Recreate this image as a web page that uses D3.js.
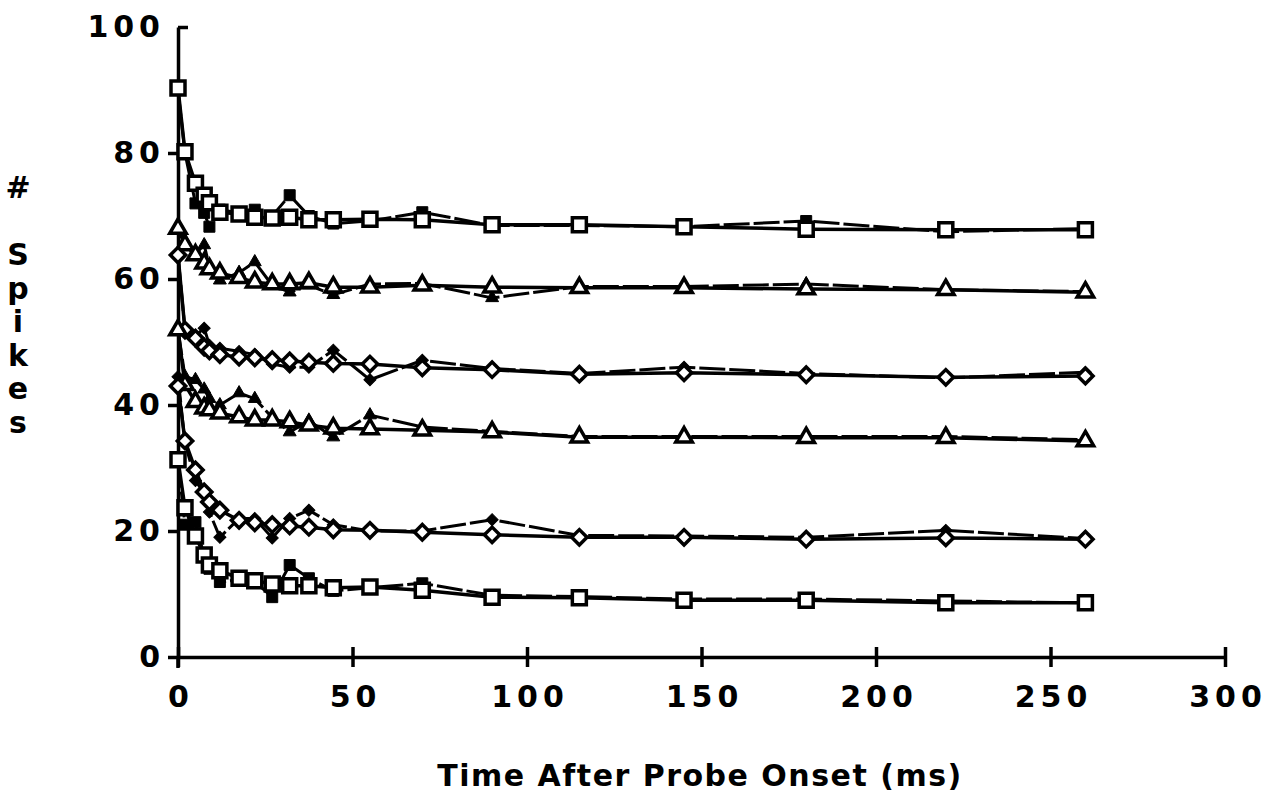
<!DOCTYPE html>
<html>
<head>
<meta charset="utf-8">
<script src="https://cdn.jsdelivr.net/npm/d3@7"></script>
<style>
  body { margin: 0; background: #fff; }
  text { font-family: "DejaVu Sans", "Liberation Sans", Arial, sans-serif; font-weight: bold; fill: #000; }
</style>
</head>
<body>
<div id="chart"></div>
<script>
// time after probe onset (ms)
const times = [0, 2, 5, 7.5, 9, 12, 17.5, 22, 27, 32, 37.5, 44.5, 55, 70, 90, 115, 145, 180, 220, 260];

// open-marker series (solid lines)
const squaresTop = [90.3, 80.2, 75.2, 73.3, 72.1, 70.6, 70.3, 69.8, 69.7, 69.8, 69.4, 69.4, 69.5, 69.4, 68.6, 68.6, 68.3, 67.9, 67.8, 67.8];
const trianglesTop = [68, 65.4, 63.8, 62.5, 61.6, 60.9, 60.2, 59.5, 59.2, 59.2, 59.4, 58.7, 58.7, 59.0, 58.7, 58.6, 58.6, 58.4, 58.3, 57.9];
const diamondsTop = [63.8, 51.9, 50.6, 49.2, 48.6, 48.0, 47.6, 47.5, 47.2, 47.0, 46.8, 46.6, 46.5, 45.9, 45.6, 44.9, 45.1, 44.8, 44.4, 44.6];
const trianglesLow = [51.9, 43.2, 40.5, 39.5, 39.2, 38.7, 38.1, 37.6, 37.6, 37.3, 36.8, 36.3, 36.2, 36.0, 35.7, 34.9, 34.9, 34.8, 34.8, 34.3];
const diamondsLow = [43.0, 34.3, 29.7, 26.2, 24.6, 23.3, 21.7, 21.3, 21.0, 20.8, 20.6, 20.2, 20.1, 19.8, 19.4, 19.0, 19.0, 18.7, 18.9, 18.7];
const squaresLow = [31.3, 23.7, 19.2, 16.2, 14.6, 13.7, 12.5, 12.1, 11.6, 11.3, 11.3, 11.0, 11.1, 10.6, 9.5, 9.4, 9.0, 9.0, 8.6, 8.6];

// filled-marker series (broken lines)
const squaresTopF = [90, 80, 72, 70.5, 68.3, 71, 70.5, 71, 70, 73.3, 70, 68.8, 69.2, 70.6, 68.5, 68.5, 68.3, 69.2, 67.5, 68];
const trianglesTopF = [68, 66, 64, 65.4, 62, 59.8, 61, 62.7, 59, 57.9, 59, 57.5, 59.2, 59.3, 57.0, 58.8, 58.8, 59.2, 58.3, 58];
const diamondsTopF = [63.8, 52, 51, 52.2, 49.5, 49, 48.5, 48, 46.5, 46, 46, 48.7, 44, 47.1, 45.8, 45, 46, 45, 44.3, 45.2];
const trianglesLowF = [52, 44.5, 44, 42.5, 41, 40, 41.9, 41, 38, 35.7, 37.5, 34.9, 38.4, 36.5, 35.8, 35, 35, 35, 35, 34.5];
const diamondsLowF = [44.5, 34, 28, 26, 23, 19, 22, 22, 18.9, 22, 23.3, 21, 20, 20, 21.8, 19.3, 19.2, 19, 20.1, 18.8];
const squaresLowF = [31, 21, 21.4, 16, 14, 11.9, 12.3, 12, 9.5, 14.6, 12.5, 10.5, 11, 11.7, 9.8, 9.6, 9.2, 9.2, 8.9, 8.6];

const xTicks = [0, 50, 100, 150, 200, 250, 300];
const yTicks = [0, 20, 40, 60, 80, 100];
const yLabelChars = ["#", "", "S", "p", "i", "k", "e", "s"];

const series = [
  { values: squaresTopF, shape: "square", filled: true },
  { values: trianglesTopF, shape: "triangle", filled: true },
  { values: diamondsTopF, shape: "diamond", filled: true },
  { values: trianglesLowF, shape: "triangle", filled: true },
  { values: diamondsLowF, shape: "diamond", filled: true },
  { values: squaresLowF, shape: "square", filled: true },
  { values: squaresTop, shape: "square", filled: false },
  { values: trianglesTop, shape: "triangle", filled: false },
  { values: diamondsTop, shape: "diamond", filled: false },
  { values: trianglesLow, shape: "triangle", filled: false },
  { values: diamondsLow, shape: "diamond", filled: false },
  { values: squaresLow, shape: "square", filled: false }
];

const width = 1275, height = 796;
const x0 = 178, y0 = 657;

const svg = d3.select("#chart").append("svg")
  .attr("width", width).attr("height", height);

const x = d3.scaleLinear().domain([0, 300]).range([x0, x0 + 1047]);
const y = d3.scaleLinear().domain([0, 100]).range([y0, 27]);

// axes
const xAxis = svg.append("g").attr("transform", `translate(0,${y0})`)
  .call(d3.axisBottom(x).tickValues(xTicks).tickSize(10).tickSizeOuter(0).tickPadding(19));
xAxis.selectAll(".tick line").attr("y1", -10);
const yAxis = svg.append("g").attr("transform", `translate(${x0},0)`)
  .call(d3.axisLeft(y).tickValues(yTicks).tickSize(10).tickSizeOuter(0).tickPadding(0));
yAxis.selectAll(".tick").filter(d => d === 100).select("line").attr("x2", 10);
svg.selectAll(".domain").attr("stroke", "#000").attr("stroke-width", 3.5);
svg.selectAll(".tick line").attr("stroke", "#000").attr("stroke-width", 3.5);
svg.selectAll(".tick text").attr("font-size", 30).attr("letter-spacing", 5)
  .style("font-family", "'DejaVu Sans', 'Liberation Sans', Arial, sans-serif").style("font-weight", "bold");
xAxis.selectAll(".tick text").attr("dx", 2.5);
yAxis.selectAll(".tick text").attr("dx", -3);
// extend the y axis a little below the x axis
svg.append("line").attr("x1", x0).attr("x2", x0).attr("y1", y0).attr("y2", y0 + 11)
  .attr("stroke", "#000").attr("stroke-width", 3.5);

// axis titles
svg.append("text").attr("x", 700).attr("y", 786).attr("text-anchor", "middle")
  .attr("font-size", 30).attr("letter-spacing", 1.5).text("Time After Probe Onset (ms)");
svg.append("g").selectAll("text").data(yLabelChars).join("text")
  .attr("x", 18).attr("y", (d, i) => 198 + i * 33.5)
  .attr("text-anchor", "middle").attr("font-size", 30).text(d => d);

// marker shapes
const symGen = {
  square: s => d3.symbol(d3.symbolSquare, s * s)(),
  triangle: s => d3.symbol(d3.symbolTriangle, s * s * 0.6)(),
  diamond: s => d3.symbol(d3.symbolSquare, s * s * 0.6)()
};

const line = d3.line().x(d => x(d[0])).y(d => y(d[1]));
const plot = svg.append("g");

series.forEach(s => {
  const pts = times.map((t, i) => [t, s.values[i]]);
  plot.append("path").datum(pts)
    .attr("d", line)
    .attr("fill", "none")
    .attr("stroke", "#000")
    .attr("stroke-width", s.filled ? 3 : 3.5)
    .attr("stroke-dasharray", s.filled ? "26,4" : null);
});

series.forEach(s => {
  const pts = times.map((t, i) => [t, s.values[i]]);
  const size = s.filled ? 11 : 14;
  plot.append("g").selectAll("path").data(pts).join("path")
    .attr("transform", d => `translate(${x(d[0])},${y(d[1])})` + (s.shape === "diamond" ? " rotate(45)" : ""))
    .attr("d", symGen[s.shape](size))
    .attr("fill", s.filled ? "#000" : "#fff")
    .attr("stroke", "#000")
    .attr("stroke-width", s.filled ? 1 : 3.5);
});
</script>
</body>
</html>
